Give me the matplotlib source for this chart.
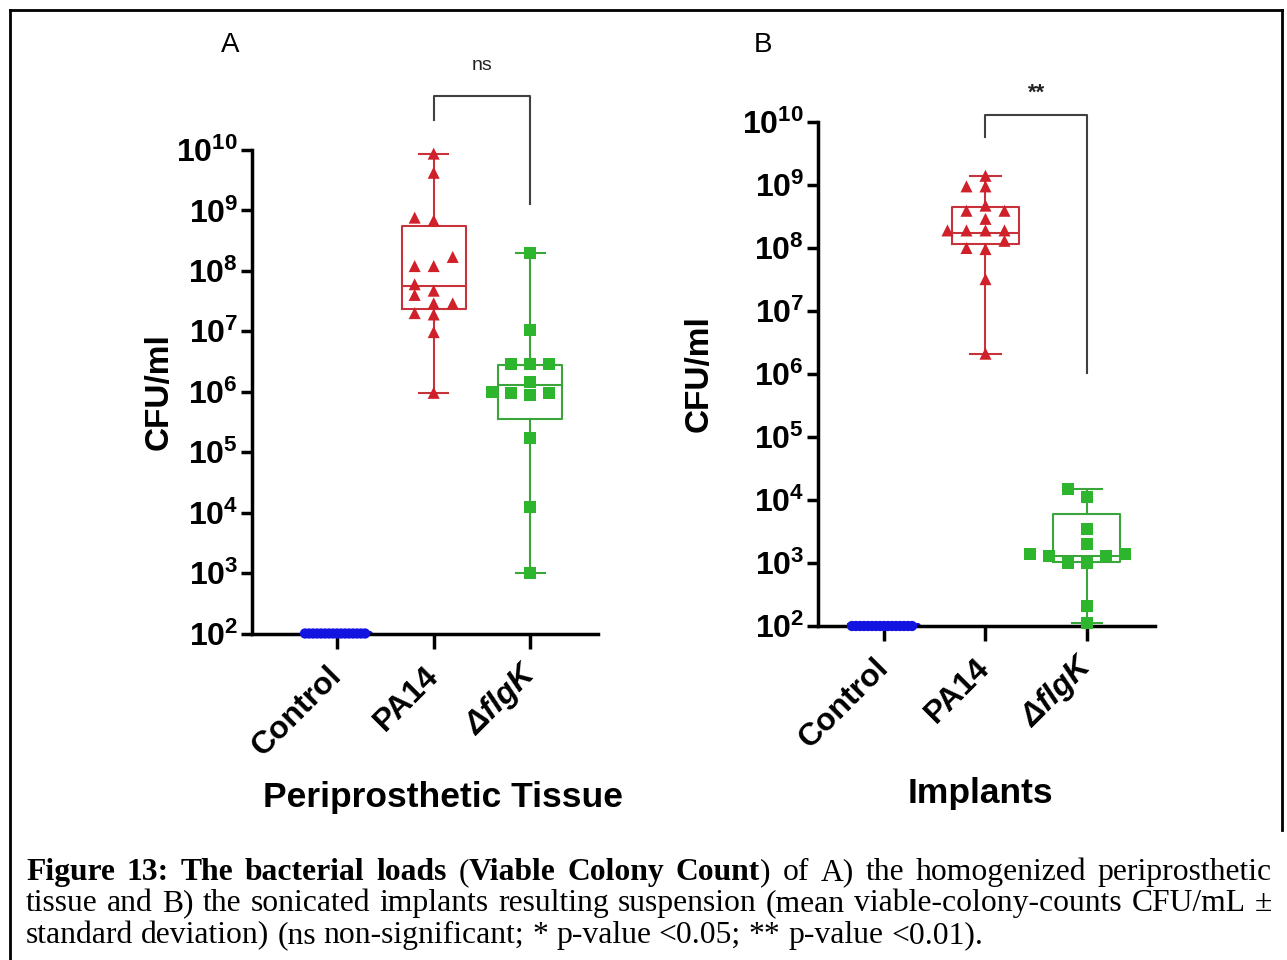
import numpy as np
import matplotlib.pyplot as plt
from matplotlib.lines import Line2D

plt.rcParams['font.family'] = ['Liberation Sans', 'DejaVu Sans']
plt.rcParams['mathtext.fontset'] = 'custom'
plt.rcParams['mathtext.rm'] = 'Liberation Sans:bold'
plt.rcParams['mathtext.bf'] = 'Liberation Sans:bold'

W, H = 1287, 960

groups = ['Control', 'PA14', 'ΔflgK']

# panel A - periprosthetic tissue (CFU/ml)
a_control = [100] * 16
a_pa14 = [8.7e9, 4.2e9, 7.6e8, 6.8e8, 1.7e8, 1.2e8, 1.2e8, 6.0e7, 4.7e7,
          4.0e7, 2.9e7, 2.9e7, 2.0e7, 1.9e7, 9.7e6, 9.6e5]
a_flgk = [2.0e8, 1.05e7, 2.9e6, 2.9e6, 2.9e6, 1.45e6, 1.0e6, 9.6e5, 9.6e5,
          8.8e5, 1.7e5, 1.26e4, 1.0e3]
# box stats: q1, median, q3
a_boxes = [(100, 100, 100), (2.3e7, 5.6e7, 5.5e8), (3.6e5, 1.3e6, 2.8e6)]

# panel B - implants
b_control = [100] * 16
b_pa14 = [1.4e9, 9.5e8, 9.5e8, 4.7e8, 3.9e8, 3.9e8, 2.9e8, 1.9e8, 1.9e8,
          1.9e8, 1.9e8, 1.3e8, 1.0e8, 9.6e7, 3.2e7, 2.1e6]
b_flgk = [1.5e4, 1.1e4, 3.5e3, 2.0e3, 1.4e3, 1.4e3, 1.3e3, 1.3e3, 1.0e3,
          1.0e3, 2.1e2, 1.1e2]
b_boxes = [(100, 100, 100), (1.15e8, 1.7e8, 4.5e8), (1.05e3, 1.3e3, 6.0e3)]

colors = ['#1414e0', '#d0202a', '#2db52d']
edge_colors = ['#1414e0', '#c8323a', '#3aa53a']
markers = ['o', '^', 's']


def swarm(vals, px_dec, px_unit, step_px, gap_px):
    # simple beeswarm: push points sideways until they do not overlap
    ypx = np.log10(vals) * px_dec
    placed = []
    offs = np.zeros(len(vals))
    for i in np.argsort(ypx, kind='stable'):
        k = 0
        found = None
        while found is None:
            for c in ([0] if k == 0 else [-k, k]):
                if all(abs(ypx[i] - py) >= gap_px or c != pc for py, pc in placed):
                    found = c
                    break
            k += 1
        placed.append((ypx[i], found))
        offs[i] = found * step_px / px_unit
    return offs


def panel(ax, data, boxes, px_dec, px_unit, xlim):
    ax.set_yscale('log')
    stats = []
    for vals, (q1, med, q3) in zip(data, boxes):
        stats.append({'q1': q1, 'med': med, 'q3': q3,
                      'whislo': min(vals), 'whishi': max(vals), 'fliers': []})
    for i, st in enumerate(stats):
        ec = edge_colors[i]
        lw = 5 if i == 0 else 1.5
        ax.bxp([st], positions=[i], widths=0.66, capwidths=0.3, showfliers=False,
               boxprops=dict(color=ec, lw=lw), whiskerprops=dict(color=ec, lw=1.5),
               capprops=dict(color=ec, lw=1.5), medianprops=dict(color=ec, lw=1.5 if i else 5),
               manage_ticks=False)
    for i, vals in enumerate(data):
        if i == 0:
            offs = swarm(vals, px_dec, px_unit, 4, 10)
        else:
            offs = swarm(vals, px_dec, px_unit, 19, 10)
        ax.scatter(i + offs, vals, marker=markers[i], s=75 if i else 55, color=colors[i],
                   edgecolors='none', zorder=5, clip_on=False)
    ax.set_xlim(*xlim)
    ax.set_ylim(1e2, 1e10)
    ax.set_yticks([10.0 ** k for k in range(2, 11)])
    ax.set_yticklabels([r'$\mathbf{10^{%d}}$' % k for k in range(2, 11)], fontsize=23)
    ax.minorticks_off()
    ax.set_xticks([0, 1, 2])
    ax.set_xticklabels(groups, rotation=45, ha='right', va='center',
                       rotation_mode='anchor', fontsize=23, fontweight='bold')
    ax.get_xticklabels()[2].set_fontstyle('italic')
    for s in ['top', 'right']:
        ax.spines[s].set_visible(False)
    for s in ['left', 'bottom']:
        ax.spines[s].set_linewidth(2.5)
    ax.tick_params(axis='y', length=8, width=2.5, pad=2)
    ax.tick_params(axis='x', length=11, width=2.5, pad=16)
    ax.set_ylabel('CFU/ml', fontsize=24, fontweight='bold')


fig = plt.figure(figsize=(W / 100, H / 100), dpi=100)

axA = fig.add_axes([252 / W, 1 - 633.5 / H, (598 - 252) / W, (633.5 - 150) / H])
panel(axA, [a_control, a_pa14, a_flgk], a_boxes, 60.5, 96.5, (-0.88, 2.70))
axA.yaxis.set_label_coords(-0.225, 0.5)
axA.plot([1, 1, 2, 2], [10 ** 10.5, 10 ** 10.9, 10 ** 10.9, 10 ** 9.1],
         color='#404040', lw=1.5, clip_on=False)
axA.text(1.5, 10 ** 11.4, 'ns', ha='center', va='center', fontsize=14, color='#222222')

axB = fig.add_axes([818 / W, 1 - 626 / H, (1155 - 818) / W, (626 - 122) / H])
panel(axB, [b_control, b_pa14, b_flgk], b_boxes, 63, 101.5, (-0.65, 2.67))
axB.yaxis.set_label_coords(-0.306, 0.5)
axB.plot([1, 1, 2, 2], [10 ** 9.76, 10 ** 10.11, 10 ** 10.11, 10 ** 6.02],
         color='#404040', lw=1.5, clip_on=False)
axB.text(1.5, 10 ** 10.45, '**', ha='center', va='center', fontsize=16,
         fontweight='bold', color='#222222')

fig.text(443 / W, 1 - 797 / H, 'Periprosthetic Tissue', ha='center', va='center',
         fontsize=25.5, fontweight='bold')
fig.text(980 / W, 1 - 793 / H, 'Implants', ha='center', va='center',
         fontsize=25.5, fontweight='bold')
fig.text(230 / W, 1 - 45 / H, 'A', ha='center', va='center', fontsize=20)
fig.text(763 / W, 1 - 45 / H, 'B', ha='center', va='center', fontsize=20)

# frame
fig.add_artist(Line2D([10 / W, 10 / W], [0, 1 - 10 / H], color='black', lw=2))
fig.add_artist(Line2D([10 / W, 1282 / W], [1 - 10 / H, 1 - 10 / H], color='black', lw=2))
fig.add_artist(Line2D([1282 / W, 1282 / W], [1 - 10 / H, 1 - 830 / H], color='black', lw=2))

# caption, justified like the source document
cap_fs = 22.8
caption = [
    [('Figure 13: The bacterial loads', True), (' (', False), ('Viable Colony Count', True),
     (')', False), (' of A) the homogenized periprosthetic', False)],
    [('tissue and B) the sonicated implants resulting suspension (mean viable-colony-counts CFU/mL \u00b1', False)],
    [('standard deviation) (ns non-significant; * p-value <0.05; ** p-value <0.01).', False)],
]
baselines = [880, 911, 943]

renderer = fig.canvas.get_renderer()


def text_width(txt, bold):
    t = fig.text(0, 0, txt, fontsize=cap_fs, family='Liberation Serif',
                 weight='bold' if bold else 'normal')
    w = t.get_window_extent(renderer).width
    t.remove()
    return w


def words_of(segments):
    words = [[]]
    for txt, bold in segments:
        for i, p in enumerate(txt.split(' ')):
            if i > 0:
                words.append([])
            if p:
                words[-1].append((p, bold))
    return [w for w in words if w]


space_w = text_width('a a', False) - text_width('aa', False)
x0, x1 = 26, 1272
for n, (segs, yb) in enumerate(zip(caption, baselines)):
    words = words_of(segs)
    widths = [[text_width(t, b) for t, b in w] for w in words]
    total = sum(sum(w) for w in widths)
    gap = (x1 - x0 - total) / (len(words) - 1) if n < len(caption) - 1 else space_w
    x = x0
    for w, ws in zip(words, widths):
        for (t, b), tw in zip(w, ws):
            fig.text(x / W, 1 - yb / H, t, fontsize=cap_fs, family='Liberation Serif',
                     weight='bold' if b else 'normal', va='baseline', ha='left')
            x += tw
        x += gap

fig.savefig('out.png', dpi=100)
